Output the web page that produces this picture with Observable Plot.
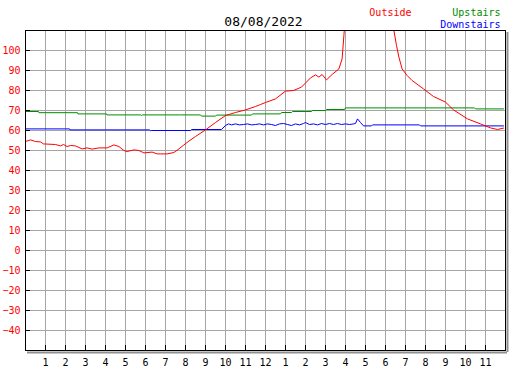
<!DOCTYPE html>
<html><head><meta charset="utf-8">
<script src="https://cdn.jsdelivr.net/npm/d3@7"></script>
<script src="https://cdn.jsdelivr.net/npm/@observablehq/plot@0.6"></script>
<style>body{margin:0;background:#fff}</style>
</head><body><div id="chart"></div>
<script>
const title = "08/08/2022";
const seriesNames = ["Outside", "Upstairs", "Downstairs"];
const seriesColors = ["#ff0000", "#008c00", "#0000ff"];

const outsideHours = [0,0.25,0.5,0.75,0.9,1.5,1.75,1.9,2.08,2.25,2.5,2.83,3.08,3.33,3.67,4.08,4.42,4.67,4.92,5.08,5.42,5.67,5.92,6.33,6.58,7.08,7.42,7.67,7.92,8.17,8.5,9.0,9.5,10.0,10.5,11.0,11.5,11.75,12.0,12.5,13.0,13.4,13.8,14.25,14.5,14.67,14.83,15.05,15.33,15.67,15.83,15.92,16.05,18.3,18.42,18.55,18.67,18.83,19.08,19.33,19.9,20.4,21.0,21.4,22.1,22.75,23.25,23.6,23.9];
const outsideTemps = [54.5,55.3,54.5,54.3,53.3,53.0,52.3,53.0,52.0,52.5,52.3,50.8,51.3,50.7,51.3,51.3,52.8,52.0,50.0,49.5,50.3,50.0,48.8,49.2,48.3,48.3,49.0,50.8,52.8,54.7,57.0,60.3,64.0,67.5,69.0,70.3,72.0,73.0,74.0,75.8,79.7,80.0,81.7,86.3,87.8,86.7,88.0,85.3,88.0,90.8,95.8,107.5,125,125,110,102.5,96.7,90.8,87.5,85.0,80.8,77.0,74.2,70.3,65.8,63.3,61.3,60.5,61.2];

const upstairsHours = [0,0.65,0.67,2.6,2.62,4.05,4.07,5.75,5.8,5.85,7.75,8.75,8.8,9.5,9.55,11.3,11.35,12.75,12.8,13.3,13.35,14.3,14.35,15.0,15.05,15.95,16.0,22.45,22.5,23.9];
const upstairsTemps = [69.5,69.5,68.9,68.9,68.3,68.3,67.8,67.8,67.5,67.8,67.8,67.8,67.2,67.2,67.7,67.7,68.3,68.3,69.0,69.0,69.5,69.5,70.0,70.0,70.5,70.5,71.3,71.3,70.8,70.8];

const downstairsHours = [0,2.2,2.22,6.2,6.25,6.3,8.25,8.3,9.8,10.0,10.15,10.3,10.5,10.7,10.9,11.1,11.3,11.5,11.7,11.9,12.1,12.3,12.5,12.7,12.9,13.1,13.3,13.5,13.7,13.9,14.0,14.2,14.4,14.6,14.8,15.0,15.2,15.4,15.6,15.8,16.0,16.2,16.4,16.5,16.6,16.75,16.9,17.3,17.35,19.7,19.75,23.9];
const downstairsTemps = [60.8,60.8,60.3,60.3,59.9,60.0,60.0,60.5,60.5,62.5,63.3,62.8,63.3,62.8,63.0,63.3,62.8,63.0,63.3,62.8,63.3,63.0,62.5,63.3,63.5,63.0,62.5,63.3,62.8,63.5,64.0,63.0,63.3,62.8,63.5,63.0,63.5,63.0,63.5,63.0,63.3,63.0,63.3,63.5,65.8,64.0,62.3,62.3,62.8,62.8,62.3,62.3];

const yTicks = [-40,-30,-20,-10,0,10,20,30,40,50,60,70,80,90,100];
const xTickHours = [1,2,3,4,5,6,7,8,9,10,11,12,13,14,15,16,17,18,19,20,21,22,23];
const xTickLabels = ["1","2","3","4","5","6","7","8","9","10","11","12","1","2","3","4","5","6","7","8","9","10","11"];
const xDomain = [0, 24];
const yDomain = [-50, 110];

const rows = (hs, vs) => hs.map((h, i) => ({h, v: vs[i]}));
const font = "DejaVu Sans Mono";

const chart = Plot.plot({
  width: 527, height: 370,
  marginTop: 30, marginLeft: 25, marginRight: 22, marginBottom: 20,
  style: {fontFamily: font, fontSize: "10px", background: "#fff", overflow: "visible"},
  x: {domain: xDomain, label: null},
  y: {domain: yDomain, label: null},
  marks: [
    Plot.ruleX(xTickHours, {stroke: "#a5a5a5", strokeWidth: 1}),
    Plot.ruleY(yTicks, {stroke: "#a5a5a5", strokeWidth: 1}),
    Plot.line(rows(upstairsHours, upstairsTemps), {x: "h", y: "v", stroke: seriesColors[1], strokeWidth: 1, clip: true}),
    Plot.line(rows(downstairsHours, downstairsTemps), {x: "h", y: "v", stroke: seriesColors[2], strokeWidth: 1, clip: true}),
    Plot.line(rows(outsideHours, outsideTemps), {x: "h", y: "v", stroke: seriesColors[0], strokeWidth: 1, clip: true}),
    Plot.ruleX([xDomain[1]], {dx: 2, dy: 2, stroke: "#909090", strokeWidth: 2}),
    Plot.ruleY([yDomain[0]], {dx: 2, dy: 2, stroke: "#909090", strokeWidth: 2}),
    Plot.frame({stroke: "black"}),
    Plot.tickY(yTicks, {y: d => d, insetRight: 475, stroke: "black"}),
    Plot.tickX(xTickHours, {x: d => d, insetTop: 315, stroke: "black"}),
    Plot.axisY(yTicks, {anchor: "left", label: null, tickSize: 0, tickPadding: 5, fill: "#ff0000", fontSize: 10, fontFamily: font}),
    Plot.axisX(xTickHours, {anchor: "bottom", label: null, tickSize: 0, tickPadding: 8, fill: "black", fontSize: 10, fontFamily: font,
      tickFormat: d => xTickLabels[xTickHours.indexOf(d)]}),
    Plot.text([title], {frameAnchor: "top", dx: -2, dy: -5, lineAnchor: "bottom", fontSize: 13, fontFamily: font, fill: "black"}),
    Plot.text([seriesNames[0]], {frameAnchor: "top-right", dx: -94, dy: -15, lineAnchor: "bottom", textAnchor: "end", fontSize: 10, fontFamily: font, fill: seriesColors[0]}),
    Plot.text([seriesNames[1]], {frameAnchor: "top-right", dx: -5, dy: -15, lineAnchor: "bottom", textAnchor: "end", fontSize: 10, fontFamily: font, fill: seriesColors[1]}),
    Plot.text([seriesNames[2]], {frameAnchor: "top-right", dx: -5, dy: -3, lineAnchor: "bottom", textAnchor: "end", fontSize: 10, fontFamily: font, fill: seriesColors[2]})
  ]
});
document.getElementById("chart").appendChild(chart);
</script>
</body></html>
